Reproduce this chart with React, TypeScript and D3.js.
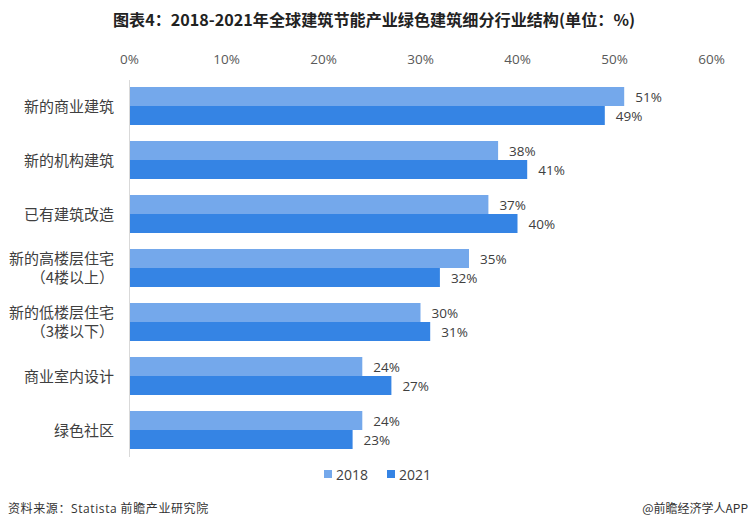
import React from "react";
import * as d3 from "d3";

const categories = [
  ["新的商业建筑"],
  ["新的机构建筑"],
  ["已有建筑改造"],
  ["新的高楼层住宅", "（4楼以上）"],
  ["新的低楼层住宅", "（3楼以下）"],
  ["商业室内设计"],
  ["绿色社区"],
];
const seriesNames = ["2018", "2021"];
const values2018 = [51, 38, 37, 35, 30, 24, 24];
const values2021 = [49, 41, 40, 32, 31, 27, 23];
const ticks = [0, 10, 20, 30, 40, 50, 60];
const colors = ["#74a8eb", "#3584e4"];

const W = 752;
const H = 528;
const CJK = "'Noto Sans CJK SC', 'Noto Sans', sans-serif";
const NUM = "'Open Sans', 'Noto Sans', 'Noto Sans CJK SC', sans-serif";

export default function App() {
  const x = d3.scaleLinear().domain([0, 60]).range([129.5, 711.5]);
  const y = d3
    .scaleBand<number>()
    .domain(d3.range(categories.length))
    .range([79, 457])
    .paddingInner(16 / 54)
    .paddingOuter(8 / 54);
  const bw = y.bandwidth() / 2;
  const series = [values2018, values2021];

  return (
    <svg
      width={W}
      height={H}
      style={{ position: "absolute", left: 0, top: 0, background: "#fff" }}
    >
      <rect x={0} y={0} width={W} height={H} fill="#fff" />
      <text
        x={374}
        y={26}
        textAnchor="middle"
        fontFamily={CJK}
        fontWeight="bold"
        fontSize={16}
        fill="#222"
        textLength={522}
        lengthAdjust="spacingAndGlyphs"
      >
        图表4：2018-2021年全球建筑节能产业绿色建筑细分行业结构(单位：%)
      </text>
      {ticks.map((t) => (
        <text
          key={t}
          x={x(t)}
          y={63.5}
          textAnchor="middle"
          fontFamily={NUM}
          fontSize={13.5}
          fill="#595959"
        >
          {t}%
        </text>
      ))}
      {series.map((vals, si) =>
        vals.map((v, i) => {
          const yy = (y(i) as number) + si * bw;
          return (
            <g key={`${si}-${i}`}>
              <rect
                x={x(0)}
                y={yy}
                width={x(v) - x(0)}
                height={bw}
                fill={colors[si]}
              />
              <text
                x={x(v) + 11}
                y={yy + bw / 2 + 5}
                fontFamily={NUM}
                fontSize={13.5}
                fill="#404040"
              >
                {v}%
              </text>
            </g>
          );
        })
      )}
      <line x1={129.5} x2={129.5} y1={80} y2={457} stroke="#d9d9d9" strokeWidth={1} />
      {categories.map((lines, i) => {
        const cy = (y(i) as number) + y.bandwidth() / 2;
        const lh = 19;
        const start = cy - ((lines.length - 1) * lh) / 2;
        return (
          <text
            key={i}
            textAnchor="end"
            fontFamily={CJK}
            fontSize={15}
            fill="#404040"
          >
            {lines.map((l, j) => (
              <tspan key={j} x={114} y={start + j * lh + 5.5}>
                {l}
              </tspan>
            ))}
          </text>
        );
      })}
      {seriesNames.map((s, i) => {
        const lx = 324 + i * 63;
        return (
          <g key={s}>
            <rect x={lx} y={470} width={8} height={8} fill={colors[i]} />
            <text x={lx + 12} y={479.5} fontFamily={NUM} fontSize={14} fill="#404040">
              {s}
            </text>
          </g>
        );
      })}
      <text x={8} y={513} fontFamily={CJK} fontSize={12} fill="#333" letterSpacing={0.6}>
        资料来源：<tspan fontFamily={NUM} fill="#333">Statista</tspan> 前瞻产业研究院
      </text>
      <text x={748} y={513} textAnchor="end" fontFamily={CJK} fontSize={12} fill="#333">
        @前瞻经济学人APP
      </text>
    </svg>
  );
}
